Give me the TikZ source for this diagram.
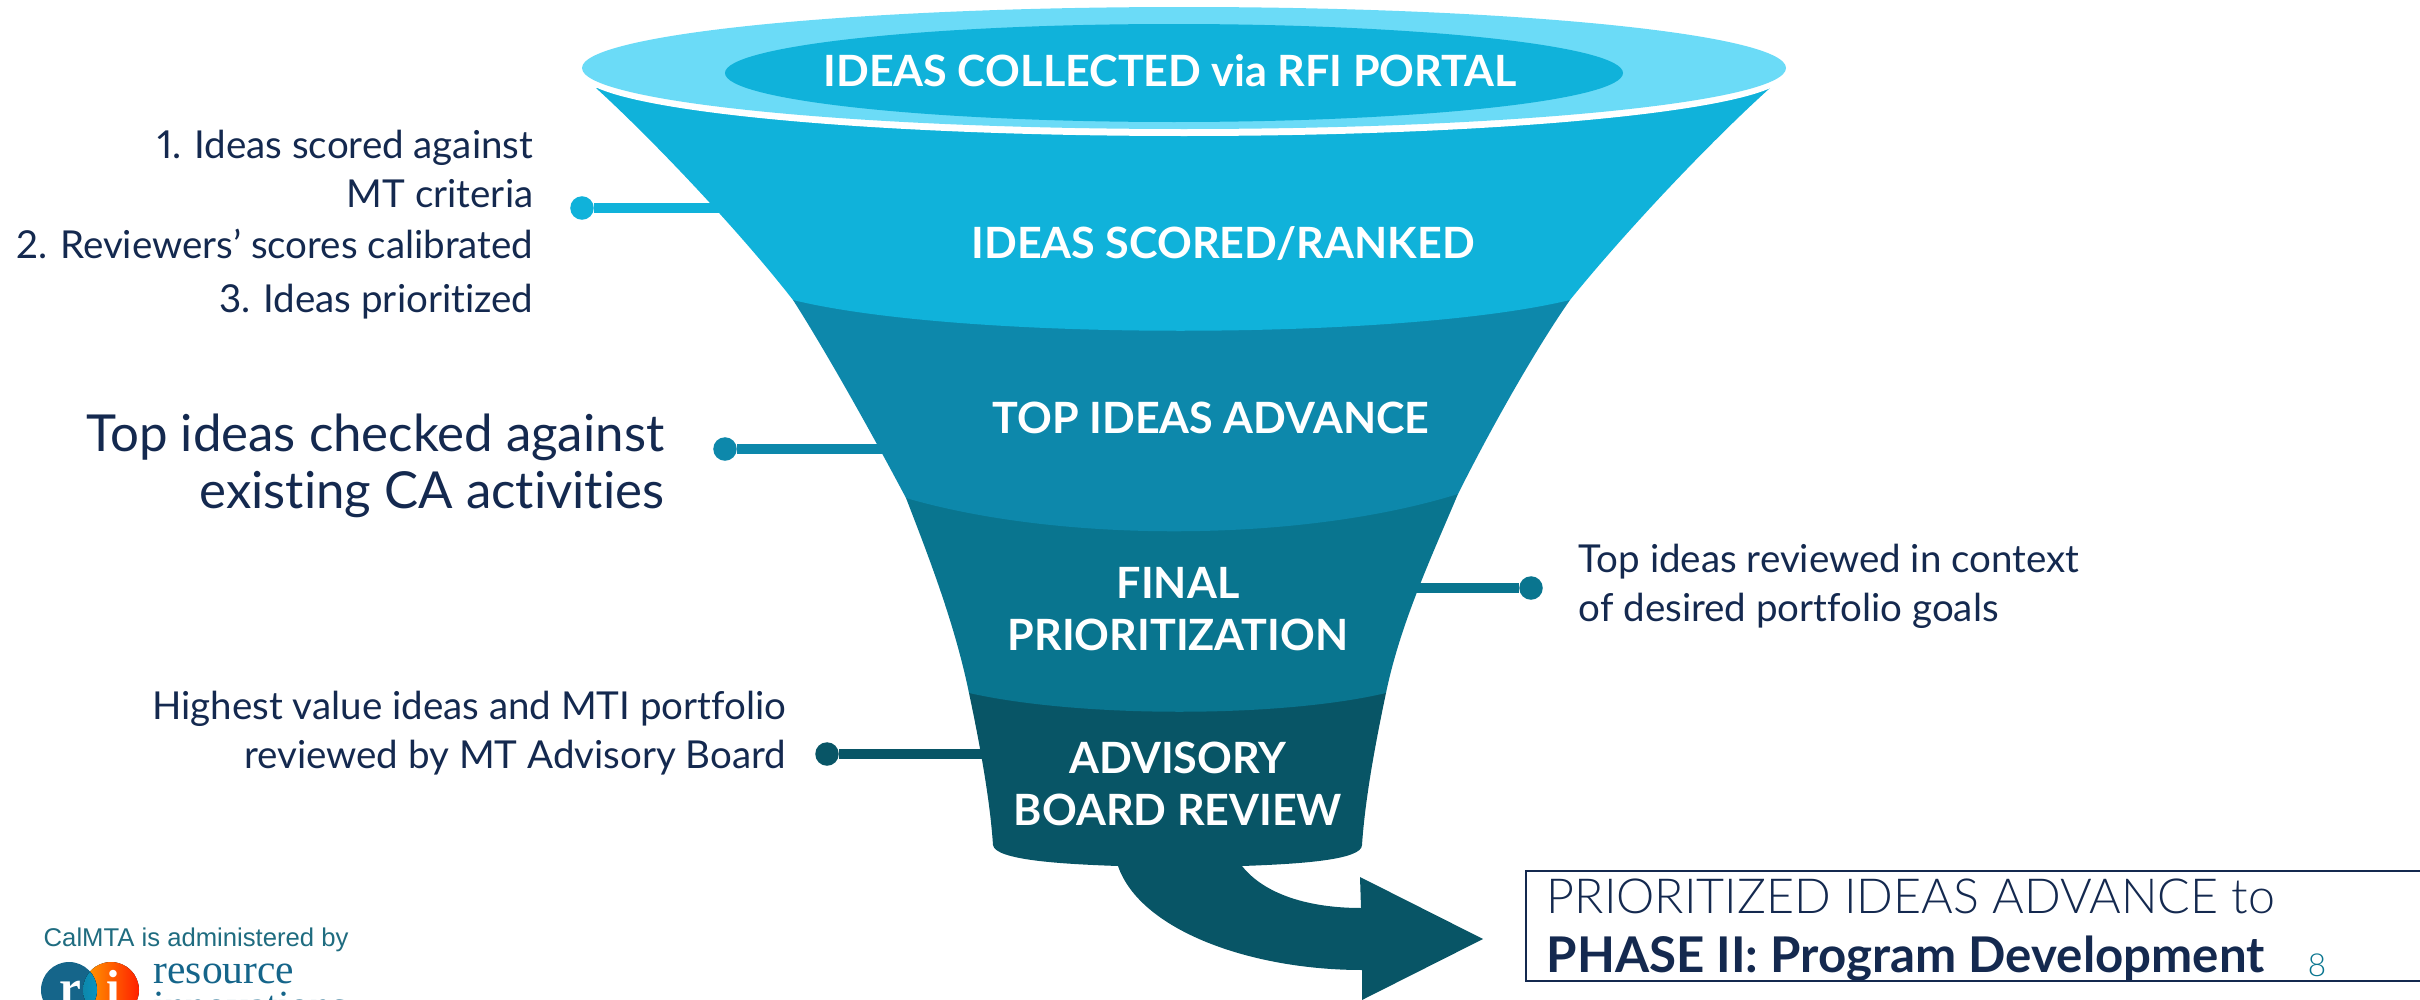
\documentclass[tikz,border=0pt]{standalone}
\usepackage{fontspec}
\setmainfont{Lato}[RawFeature={-liga;+pnum}]
\newfontfamily\lightfont{Lato Light}[RawFeature={-liga}]
\newfontfamily\logofont{Liberation Sans}
\newfontfamily\logoserif{Liberation Serif}
\definecolor{rimlight}{HTML}{6BDBF7}
\definecolor{stageone}{HTML}{10B2DA}
\definecolor{stagetwo}{HTML}{0D88AB}
\definecolor{stagethree}{HTML}{09758F}
\definecolor{stagefour}{HTML}{085566}
\definecolor{navytext}{HTML}{14294F}
\definecolor{logoblue}{HTML}{15658A}
\definecolor{logoteal}{HTML}{1F6C80}
\tikzset{
 stagelabel/.style={text=white,align=center,inner sep=0pt,font=\bfseries\fontsize{12.25}{14.6}\selectfont},
 smallnote/.style={text=navytext,inner sep=0pt,font=\fontsize{10.95}{14}\selectfont},
 bignote/.style={text=navytext,inner sep=0pt,align=right,font=\fontsize{14.5}{16.4}\selectfont},
 enddot/.style={circle,inner sep=0pt,minimum size=0.235cm,fill=#1},
 leader/.style={line width=2.6pt,#1}
}
\begin{document}
\begin{tikzpicture}[x=0.01cm,y=-0.01cm]
 \useasboundingbox (0,0) rectangle (2420,1000);
 \clip (0,0) rectangle (2420,1000);
 % connectors first, funnel goes on top
 \coordinate (edgeone) at (740,208);
 \coordinate (edgetwo) at (900,449);
 \coordinate (edgethree) at (1400,588);
 \coordinate (edgefour) at (1000,754);
 \node[enddot=stageone] (dotone) at (582,208) {};
 \node[enddot=stagetwo] (dottwo) at (725,449) {};
 \node[enddot=stagethree] (dotthree) at (1531,588) {};
 \node[enddot=stagefour] (dotfour) at (827,754) {};
 \draw[leader=stageone] (dotone) -- (edgeone);
 \draw[leader=stagetwo] (dottwo) -- (edgetwo);
 \draw[leader=stagethree] (dotthree) -- (edgethree);
 \draw[leader=stagefour] (dotfour) -- (edgefour);
 % funnel, bottom to top
 \fill[stagefour] (1000,680)--(1360,680)--(1386,693) .. controls (1375,745) and (1365,800) .. (1362,845)
   .. controls (1362,860) and (1300,864) .. (1242,866)
   .. controls (1265,895) and (1310,908) .. (1361,908)
   --(1360,877)--(1483,939)--(1362,1000)--(1362,970)
   .. controls (1250,970) and (1140,930) .. (1118,866)
   .. controls (1060,864) and (995,860) .. (993,845)
   .. controls (990,800) and (980,745) .. (969,693)--cycle;
 \fill[stagethree] (906,498) .. controls (930,560) and (955,625) .. (969,693)
   .. controls (1080,718) and (1280,718) .. (1386,693)
   .. controls (1400,625) and (1430,560) .. (1458,494)--cycle;
 \fill[stagetwo] (793,300) .. controls (825,350) and (870,430) .. (906,498)
   .. controls (1060,543) and (1300,543) .. (1458,494)
   .. controls (1490,430) and (1535,350) .. (1570,300)--cycle;
 \fill[stageone] (596,88) .. controls (655,142) and (740,232) .. (793,300)
   .. controls (960,341) and (1400,341) .. (1570,300)
   .. controls (1625,232) and (1710,142) .. (1770,88)--cycle;
 \fill[white] (1184,74) ellipse [x radius=602,y radius=62];
 \fill[rimlight] (1184,68) ellipse [x radius=602,y radius=61];
 \fill[stageone] (1174,73) ellipse [x radius=449,y radius=49];
 % stage names
 \node[stagelabel] (collected) at (1170,71) {IDEAS COLLECTED via RFI PORTAL};
 \node[stagelabel] (scored) at (1223,244) {IDEAS SCORED/RANKED};
 \node[stagelabel] (advance) at (1211,418) {TOP IDEAS ADVANCE};
 \node[stagelabel] (final) at (1178,609) {FINAL\\PRIORITIZATION};
 \node[stagelabel] (board) at (1178,784) {ADVISORY\\BOARD REVIEW};
 % notes
 \node[smallnote,anchor=base east] (noteonea) at (534,158) {1. Ideas scored against};
 \node[smallnote,anchor=base east] (noteoneb) at (534,207) {MT criteria};
 \node[smallnote,anchor=base east] (notetwo) at (534,258) {2. Reviewers’ scores calibrated};
 \node[smallnote,anchor=base east] (notethree) at (534,312) {3. Ideas prioritized};
 \node[bignote,anchor=east] (notecheck) at (665,466) {Top ideas checked against\\existing CA activities};
 \node[smallnote,align=left,anchor=west] (noteportfolio) at (1578,586) {Top ideas reviewed in context\\of desired portfolio goals};
 \node[smallnote,align=right,anchor=east] (noteboard) at (787,733) {Highest value ideas and MTI portfolio\\reviewed by MT Advisory Board};
 % result box
 \draw[navytext,line width=0.6pt] (2440,871)--(1526,871)--(1526,981)--(2440,981);
 \node[text=navytext,anchor=base west,inner sep=0pt,font=\lightfont\fontsize{13.75}{16}\selectfont] (prioritized) at (1546,913) {PRIORITIZED IDEAS ADVANCE to};
 \node[text=navytext,anchor=base west,inner sep=0pt,font=\bfseries\fontsize{14}{16}\selectfont] (phase) at (1546,972) {PHASE II: Program Development};
 \node[text=stagethree,anchor=base,inner sep=0pt,font=\lightfont\fontsize{9}{11}\selectfont] (pagenum) at (2317,976) {8};
 % logo
 \node[text=logoteal,anchor=base west,inner sep=0pt,font=\logofont\fontsize{7.3}{9}\selectfont] (admin) at (43,946) {CalMTA is administered by};
 \fill[left color=orange!75!yellow,right color=red!75!orange] (111,990) circle (28);
 \fill[logoblue] (69,990) circle (28);
 \begin{scope}
  \clip (69,990) circle (28);
  \fill[left color=stagetwo,right color=cyan!70!blue] (111,990) circle (28);
 \end{scope}
 \node[text=white,anchor=base,inner sep=0pt,font=\logoserif\bfseries\fontsize{14}{16}\selectfont] (logor) at (70,1004) {r};
 \node[text=white,anchor=base,inner sep=0pt,font=\logoserif\bfseries\fontsize{14}{16}\selectfont] (logoi) at (113,1004) {i};
 \node[text=logoblue,anchor=base west,inner sep=0pt,font=\logoserif\fontsize{11.8}{14}\selectfont] (logoname) at (153,983) {resource};
 \node[text=logoblue,anchor=base west,inner sep=0pt,font=\logoserif\fontsize{11.8}{14}\selectfont] (logonameb) at (153,1019) {innovations};
\end{tikzpicture}
\end{document}
